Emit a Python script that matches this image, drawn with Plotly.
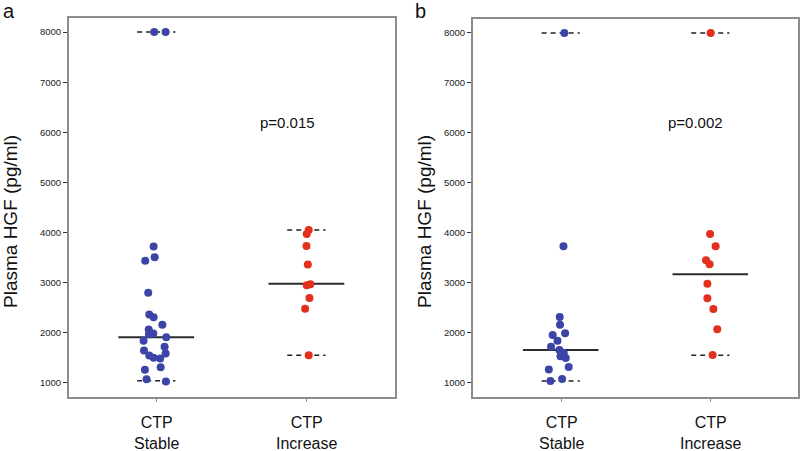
import plotly.graph_objects as go

# values (pg/ml)
a_stable = [8000, 8000, 3721, 3435, 3508, 2796, 2364, 2311, 2158, 2065, 1985, 1971,
            1911, 1838, 1719, 1645, 1546, 1499, 1486, 1585, 1313, 1260, 1073, 1027]
a_stable_jit = [-0.016, 0.06, -0.02, -0.076, -0.013, -0.056, -0.049, -0.02, 0.038, -0.053, -0.022, -0.051,
                0.064, -0.087, 0.053, -0.084, -0.049, -0.02, 0.024, 0.06, 0.027, -0.078, -0.067, 0.062]
a_incr = [4048, 3968, 3729, 3363, 2950, 2970, 2691, 2477, 1553]
a_incr_jit = [0.013, 0.0, -0.002, 0.007, 0.0, 0.024, 0.018, -0.011, 0.013]

b_stable = [8000, 3733, 2316, 2164, 1957, 1991, 1844, 1725, 1658, 1598, 1532, 1499, 1319, 1266, 1080, 1040]
b_stable_jit = [0.022, 0.016, -0.009, -0.007, -0.056, 0.027, -0.024, -0.067, -0.011, 0.018, -0.004, 0.031,
                0.051, -0.082, 0.007, -0.071]
b_incr = [8000, 3978, 3732, 3453, 3373, 2981, 2695, 2476, 2071, 1558]
b_incr_jit = [0.0, -0.004, 0.033, -0.031, -0.007, -0.022, -0.022, 0.018, 0.044, 0.013]

# median (solid) and min/max (dashed) lines
a_med = [1910, 2976]
b_med = [1658, 3174]
a_lims = [[1040, 8000], [1552, 4050]]
b_lims = [[1040, 8000], [1552, 8000]]
pvals = ["p=0.015", "p=0.002"]
cats = ["CTP<br>Stable", "CTP<br>Increase"]
yticks = [1000, 2000, 3000, 4000, 5000, 6000, 7000, 8000]

BLUE = "#3d44a8"
RED = "#e2301c"
font = "Liberation Sans, Arial"

fig = go.Figure()

panels = [
    ("x", "y", a_stable, a_stable_jit, a_incr, a_incr_jit, a_med, a_lims),
    ("x2", "y2", b_stable, b_stable_jit, b_incr, b_incr_jit, b_med, b_lims),
]

shapes = []
for xa, ya, st, stj, inc, incj, med, lims in panels:
    for k, (vals, jit, col) in enumerate([(st, stj, BLUE), (inc, incj, RED)]):
        c = k + 1
        fig.add_trace(go.Scatter(x=[c + j for j in jit], y=vals, mode="markers", xaxis=xa, yaxis=ya,
                                 marker=dict(color=col, size=8, line=dict(width=0)),
                                 showlegend=False, hoverinfo="y"))
        shapes.append(dict(type="line", xref=xa, yref=ya, x0=c - 0.255, x1=c + 0.25,
                           y0=med[k], y1=med[k], line=dict(color="#2b2b2b", width=2), layer="below"))
        for v in lims[k]:
            shapes.append(dict(type="line", xref=xa, yref=ya, x0=c - 0.13, x1=c + 0.125,
                               y0=v, y1=v, line=dict(color="#222222", width=1.5, dash="5px,4px"),
                               layer="below"))
        # category label under each column
        fig.add_annotation(x=c, y=1 - 412 / 451, xref=xa, yref="paper", text=cats[k],
                           showarrow=False, yanchor="top", xanchor="center",
                           font=dict(family=font, size=16, color="#111"))

axis_common = dict(showgrid=False, zeroline=False, showline=True, mirror=True,
                   linecolor="#8c8c8c", linewidth=1.5)
xax = dict(axis_common, tickvals=[1, 2], showticklabels=False, ticks="outside", ticklen=3,
           tickcolor="#8c8c8c")
yax = dict(axis_common, range=[720, 8280], tickvals=yticks, ticks="outside", ticklen=4,
           tickcolor="#333", tickfont=dict(family=font, size=9.5, color="#222"),
           ticklabelstandoff=0)

fig.update_layout(
    width=800, height=451,
    margin=dict(l=0, r=0, t=0, b=0),
    plot_bgcolor="white", paper_bgcolor="white",
    xaxis=dict(xax, domain=[0.086, 0.494], range=[0.415, 2.589], anchor="y"),
    yaxis=dict(yax, domain=[0.12, 0.96], anchor="x"),
    xaxis2=dict(xax, domain=[0.591, 0.997], range=[0.41, 2.581], anchor="y2"),
    yaxis2=dict(yax, domain=[0.12, 0.958], anchor="x2"),
    shapes=shapes,
)

for i, (xref, yref) in enumerate([("x", "y"), ("x2", "y2")]):
    fig.add_annotation(x=[1.87, 1.9][i], y=6200, xref=xref, yref=yref, text=pvals[i],
                       showarrow=False, font=dict(family=font, size=15, color="#111"))
    fig.add_annotation(x=[11, 425][i] / 800, y=1 - 222 / 451, xref="paper", yref="paper",
                       text="Plasma HGF (pg/ml)", textangle=-90, showarrow=False,
                       xanchor="center", yanchor="middle",
                       font=dict(family=font, size=19, color="#111"))
    fig.add_annotation(x=[9, 420][i] / 800, y=1 - 11 / 451, xref="paper", yref="paper",
                       text=["a", "b"][i], showarrow=False, xanchor="center", yanchor="middle",
                       font=dict(family=font, size=20, color="#111"))

# page body has a default 8px margin; drop it so the figure fills the window
fig.write_html("out.html", config={"displayModeBar": False},
               post_script="document.body.style.margin='0';")
